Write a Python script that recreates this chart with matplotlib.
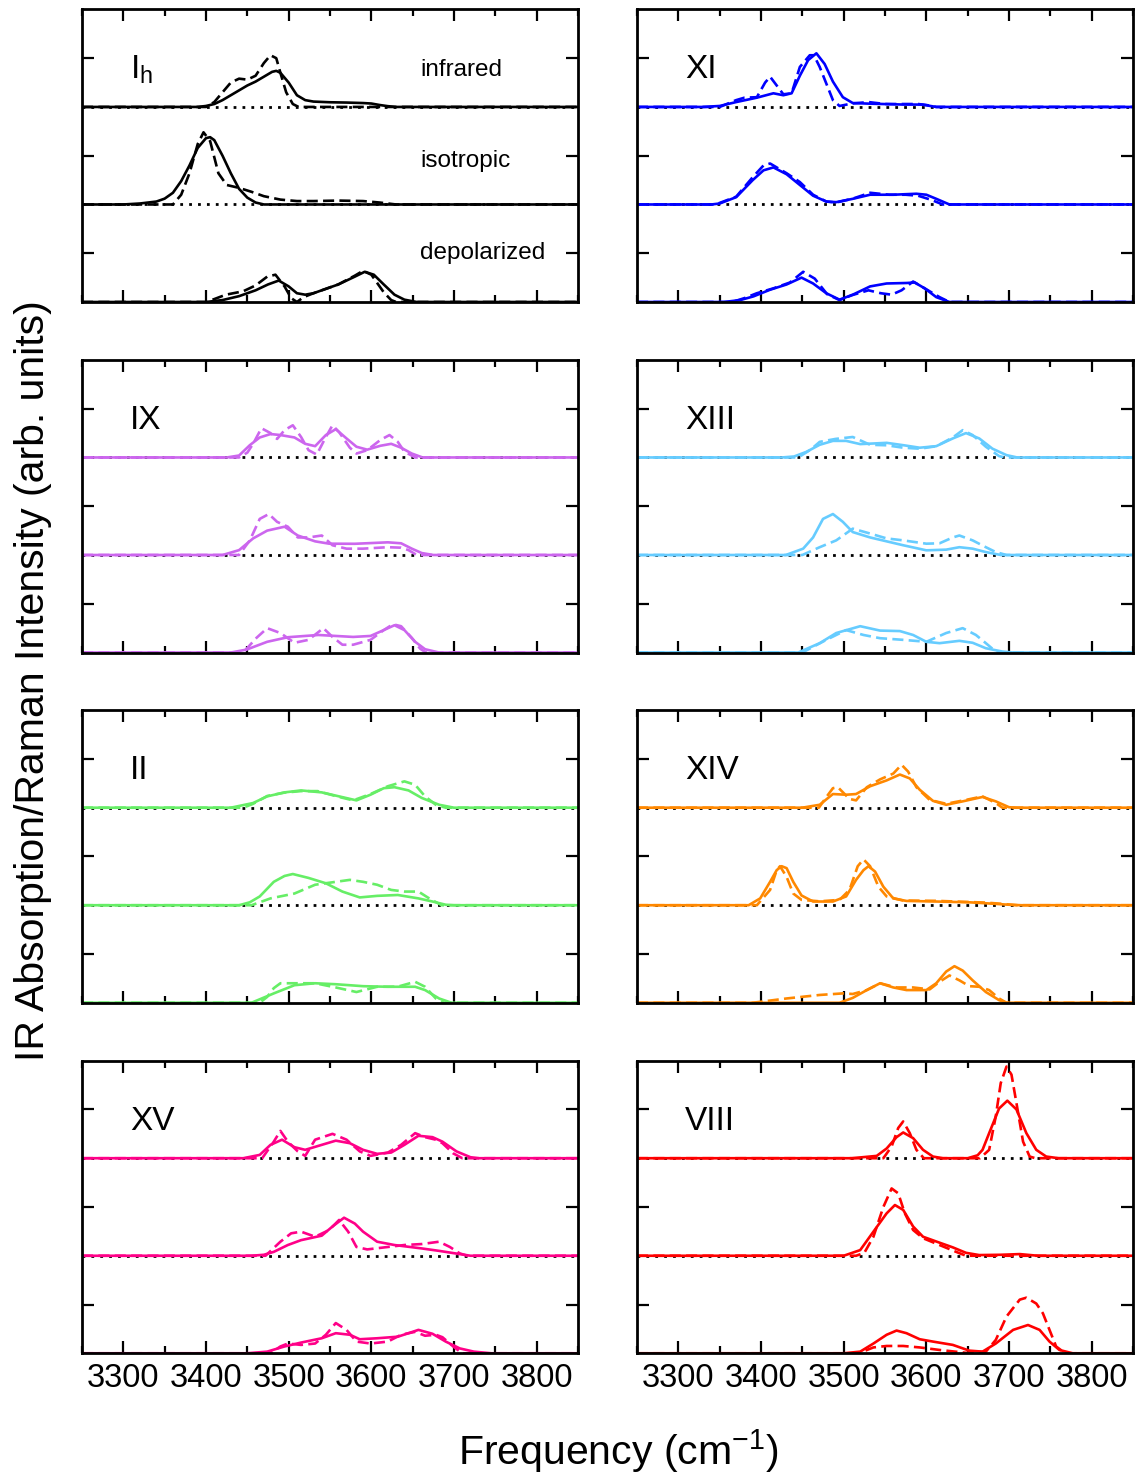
import matplotlib
matplotlib.use('Agg')
import matplotlib.pyplot as plt
from matplotlib.ticker import MultipleLocator, NullFormatter, FixedLocator

plt.rcParams['font.family'] = ['Liberation Sans', 'DejaVu Sans']
plt.rcParams['mathtext.fontset'] = 'custom'
plt.rcParams['mathtext.rm'] = 'Liberation Sans'
plt.rcParams['mathtext.it'] = 'Liberation Sans:italic'

FREQ_MIN, FREQ_MAX = 3250, 3850
freq_ticks = [3300, 3400, 3500, 3600, 3700, 3800]
mode_names = ['infrared', 'isotropic', 'depolarized']

# (frequency, intensity) pairs; solid = computed, dashed = second model
ih_ir_solid = [(3390, 0), (3400, 0.01), (3410, 0.03), (3420, 0.07), (3430, 0.12), (3440, 0.17),
               (3450, 0.22), (3460, 0.26), (3470, 0.31), (3480, 0.36), (3485, 0.37), (3490, 0.35),
               (3500, 0.25), (3510, 0.12), (3520, 0.07), (3530, 0.055), (3550, 0.048), (3570, 0.045),
               (3590, 0.04), (3600, 0.035), (3610, 0.02), (3620, 0.008), (3630, 0)]
ih_ir_dash = [(3400, 0), (3410, 0.05), (3420, 0.15), (3430, 0.25), (3440, 0.29), (3450, 0.28),
              (3460, 0.32), (3470, 0.45), (3478, 0.53), (3485, 0.50), (3490, 0.35), (3497, 0.15),
              (3505, 0.03), (3512, 0)]
ih_iso_solid = [(3300, 0), (3320, 0.01), (3340, 0.03), (3350, 0.06), (3360, 0.12), (3370, 0.24),
                (3380, 0.40), (3390, 0.58), (3400, 0.68), (3405, 0.69), (3410, 0.66), (3420, 0.50),
                (3430, 0.32), (3440, 0.16), (3450, 0.07), (3460, 0.02), (3470, 0)]
ih_iso_dash = [(3360, 0), (3370, 0.1), (3380, 0.32), (3390, 0.62), (3397, 0.74), (3405, 0.65),
               (3415, 0.32), (3425, 0.2), (3440, 0.17), (3455, 0.13), (3470, 0.085), (3490, 0.05),
               (3510, 0.035), (3530, 0.035), (3560, 0.04), (3590, 0.035), (3610, 0.02), (3630, 0)]
ih_dep_solid = [(3400, 0), (3420, 0.02), (3440, 0.06), (3460, 0.12), (3475, 0.18), (3488, 0.22),
                (3500, 0.16), (3510, 0.09), (3520, 0.075), (3530, 0.09), (3540, 0.12), (3560, 0.18),
                (3580, 0.26), (3592, 0.31), (3603, 0.28), (3615, 0.18), (3628, 0.075), (3640, 0.024),
                (3655, 0)]
ih_dep_dash = [(3400, 0), (3410, 0.03), (3424, 0.075), (3445, 0.11), (3460, 0.17), (3474, 0.26),
               (3484, 0.28), (3495, 0.16), (3503, 0.04), (3510, 0), (3518, 0.05), (3530, 0.09),
               (3560, 0.18), (3580, 0.27), (3590, 0.32), (3600, 0.28), (3615, 0.10), (3624, 0.02),
               (3630, 0)]

xi_ir_solid = [(3330, 0), (3350, 0.01), (3370, 0.05), (3395, 0.095), (3415, 0.14), (3427, 0.12),
               (3437, 0.14), (3447, 0.32), (3457, 0.48), (3467, 0.55), (3477, 0.44), (3487, 0.26),
               (3499, 0.10), (3511, 0.04), (3530, 0.034), (3570, 0.025), (3595, 0.024), (3612, 0)]
xi_ir_dash = [(3350, 0), (3370, 0.07), (3380, 0.095), (3395, 0.10), (3405, 0.25), (3411, 0.31),
              (3419, 0.22), (3427, 0.13), (3437, 0.14), (3447, 0.41), (3459, 0.53), (3464, 0.53),
              (3471, 0.41), (3479, 0.24), (3487, 0.07), (3495, 0.01), (3510, 0.035), (3530, 0.05),
              (3550, 0.03), (3570, 0.03), (3590, 0.03), (3600, 0.02), (3612, 0)]
xi_iso_solid = [(3340, 0), (3350, 0.01), (3370, 0.075), (3390, 0.25), (3403, 0.35), (3415, 0.38),
                (3431, 0.31), (3447, 0.2), (3463, 0.09), (3479, 0.03), (3491, 0.024), (3511, 0.058),
                (3532, 0.10), (3560, 0.10), (3588, 0.11), (3600, 0.10), (3612, 0.058), (3628, 0)]
xi_iso_dash = [(3345, 0), (3370, 0.08), (3390, 0.28), (3403, 0.40), (3411, 0.42), (3431, 0.32),
               (3447, 0.23), (3463, 0.10), (3479, 0.03), (3491, 0.02), (3511, 0.06), (3532, 0.12),
               (3555, 0.10), (3575, 0.10), (3590, 0.09), (3605, 0.05), (3620, 0)]
xi_dep_solid = [(3355, 0), (3375, 0.02), (3391, 0.058), (3411, 0.126), (3431, 0.18), (3449, 0.25),
                (3463, 0.19), (3479, 0.09), (3495, 0.024), (3511, 0.075), (3532, 0.16), (3552, 0.19),
                (3576, 0.195), (3586, 0.20), (3598, 0.14), (3612, 0.05), (3628, 0)]
xi_dep_dash = [(3365, 0), (3380, 0.04), (3395, 0.09), (3415, 0.14), (3435, 0.20), (3451, 0.31),
               (3465, 0.24), (3480, 0.08), (3495, 0.02), (3510, 0.07), (3530, 0.12), (3545, 0.09),
               (3558, 0.075), (3570, 0.12), (3584, 0.21), (3600, 0.13), (3616, 0.05), (3628, 0)]

ix_ir_solid = [(3425, 0), (3440, 0.02), (3453, 0.126), (3465, 0.205), (3478, 0.24), (3490, 0.23),
               (3507, 0.205), (3520, 0.14), (3532, 0.116), (3545, 0.23), (3557, 0.29), (3570, 0.195),
               (3582, 0.11), (3595, 0.08), (3611, 0.12), (3624, 0.14), (3636, 0.10), (3649, 0.04),
               (3662, 0)]
ix_ir_dash = [(3440, 0), (3450, 0.05), (3457, 0.14), (3467, 0.30), (3478, 0.25), (3486, 0.19),
              (3495, 0.28), (3505, 0.33), (3515, 0.21), (3524, 0.075), (3534, 0.03), (3545, 0.21),
              (3553, 0.33), (3561, 0.26), (3574, 0.10), (3582, 0.04), (3595, 0.075), (3611, 0.18),
              (3622, 0.23), (3632, 0.16), (3640, 0.06), (3653, 0)]
ix_iso_solid = [(3420, 0), (3440, 0.05), (3457, 0.17), (3474, 0.25), (3495, 0.29), (3511, 0.20),
                (3532, 0.14), (3549, 0.116), (3580, 0.115), (3620, 0.13), (3636, 0.12), (3649, 0.065),
                (3661, 0.02), (3675, 0)]
ix_iso_dash = [(3440, 0), (3453, 0.15), (3465, 0.37), (3476, 0.42), (3486, 0.34), (3499, 0.29),
               (3511, 0.18), (3524, 0.18), (3540, 0.20), (3553, 0.10), (3570, 0.065), (3590, 0.065),
               (3620, 0.08), (3636, 0.075), (3645, 0.05), (3655, 0)]
ix_dep_solid = [(3430, 0), (3449, 0.03), (3474, 0.11), (3499, 0.157), (3536, 0.18), (3557, 0.17),
                (3578, 0.16), (3599, 0.17), (3615, 0.23), (3628, 0.28), (3640, 0.23), (3653, 0.11),
                (3665, 0.034), (3682, 0)]
ix_dep_dash = [(3445, 0), (3461, 0.15), (3474, 0.25), (3490, 0.20), (3507, 0.10), (3524, 0.13),
               (3542, 0.25), (3553, 0.16), (3565, 0.08), (3578, 0.08), (3599, 0.13), (3615, 0.23),
               (3626, 0.29), (3636, 0.27), (3649, 0.15), (3659, 0.04), (3666, 0)]

xiii_ir_solid = [(3425, 0), (3440, 0.01), (3455, 0.058), (3471, 0.13), (3487, 0.17), (3503, 0.17),
                 (3520, 0.137), (3540, 0.145), (3552, 0.15), (3572, 0.126), (3592, 0.10), (3612, 0.116),
                 (3632, 0.195), (3648, 0.25), (3664, 0.195), (3680, 0.09), (3697, 0.024), (3710, 0)]
xiii_ir_dash = [(3445, 0), (3460, 0.08), (3471, 0.16), (3490, 0.19), (3511, 0.21), (3532, 0.13),
                (3552, 0.125), (3572, 0.10), (3592, 0.09), (3612, 0.115), (3632, 0.205), (3644, 0.28),
                (3656, 0.23), (3672, 0.11), (3688, 0.014), (3695, 0)]
xiii_iso_solid = [(3430, 0), (3451, 0.065), (3463, 0.18), (3475, 0.37), (3487, 0.42), (3499, 0.34),
                  (3511, 0.235), (3532, 0.18), (3552, 0.14), (3572, 0.10), (3600, 0.048), (3624, 0.055),
                  (3640, 0.08), (3656, 0.065), (3672, 0.03), (3690, 0)]
xiii_iso_dash = [(3450, 0), (3471, 0.08), (3491, 0.15), (3511, 0.27), (3532, 0.22), (3552, 0.17),
                 (3572, 0.15), (3600, 0.116), (3616, 0.12), (3632, 0.18), (3640, 0.20), (3656, 0.15),
                 (3672, 0.08), (3684, 0.03), (3697, 0)]
xiii_dep_solid = [(3445, 0), (3471, 0.096), (3491, 0.20), (3520, 0.27), (3544, 0.225), (3568, 0.22),
                  (3584, 0.18), (3600, 0.11), (3616, 0.096), (3640, 0.12), (3656, 0.10), (3672, 0.044),
                  (3692, 0.01), (3705, 0)]
xiii_dep_dash = [(3450, 0), (3479, 0.13), (3503, 0.23), (3524, 0.18), (3544, 0.147), (3572, 0.13),
                 (3600, 0.11), (3624, 0.20), (3644, 0.25), (3660, 0.18), (3672, 0.096), (3684, 0.01),
                 (3690, 0)]

ii_ir_solid = [(3430, 0), (3457, 0.048), (3474, 0.116), (3495, 0.157), (3515, 0.177), (3540, 0.157),
               (3561, 0.116), (3582, 0.075), (3599, 0.133), (3615, 0.20), (3628, 0.21), (3645, 0.177),
               (3661, 0.10), (3682, 0.03), (3700, 0)]
ii_ir_dash = [(3445, 0), (3457, 0.04), (3474, 0.12), (3495, 0.155), (3515, 0.17), (3535, 0.17),
              (3561, 0.11), (3578, 0.075), (3599, 0.14), (3620, 0.22), (3640, 0.27), (3653, 0.235),
              (3665, 0.116), (3678, 0.03), (3690, 0)]
ii_iso_solid = [(3440, 0), (3453, 0.03), (3465, 0.09), (3482, 0.24), (3495, 0.30), (3505, 0.32),
                (3524, 0.28), (3545, 0.225), (3565, 0.14), (3586, 0.08), (3607, 0.096), (3632, 0.105),
                (3657, 0.07), (3674, 0.038), (3690, 0.005), (3700, 0)]
ii_iso_dash = [(3455, 0), (3478, 0.07), (3507, 0.12), (3532, 0.21), (3557, 0.24), (3574, 0.26),
               (3590, 0.24), (3607, 0.21), (3624, 0.157), (3640, 0.14), (3657, 0.14), (3670, 0.07),
               (3685, 0)]
ii_dep_solid = [(3455, 0), (3482, 0.096), (3507, 0.18), (3532, 0.20), (3557, 0.19), (3590, 0.17),
                (3620, 0.164), (3653, 0.164), (3665, 0.13), (3682, 0.044), (3697, 0)]
ii_dep_dash = [(3465, 0), (3474, 0.06), (3482, 0.15), (3490, 0.20), (3507, 0.20), (3532, 0.20),
               (3557, 0.157), (3582, 0.11), (3607, 0.164), (3632, 0.165), (3653, 0.215), (3665, 0.164),
               (3678, 0.044), (3688, 0)]

xiv_ir_solid = [(3450, 0), (3471, 0.03), (3487, 0.14), (3503, 0.133), (3515, 0.14), (3532, 0.22),
                (3552, 0.28), (3568, 0.34), (3580, 0.30), (3592, 0.184), (3608, 0.07), (3624, 0.03),
                (3644, 0.065), (3668, 0.11), (3684, 0.065), (3700, 0.005), (3710, 0)]
xiv_ir_dash = [(3470, 0), (3480, 0.12), (3487, 0.20), (3493, 0.21), (3507, 0.09), (3515, 0.075),
               (3528, 0.21), (3544, 0.29), (3560, 0.35), (3570, 0.44), (3578, 0.37), (3588, 0.21),
               (3604, 0.08), (3624, 0.04), (3648, 0.08), (3668, 0.116), (3684, 0.048), (3692, 0)]
xiv_iso_solid = [(3385, 0), (3399, 0.07), (3411, 0.24), (3419, 0.36), (3425, 0.40), (3431, 0.38),
                 (3439, 0.24), (3449, 0.10), (3463, 0.038), (3487, 0.038), (3503, 0.09), (3515, 0.26),
                 (3524, 0.36), (3530, 0.40), (3538, 0.345), (3548, 0.19), (3560, 0.07), (3576, 0.044),
                 (3612, 0.038), (3652, 0.03), (3672, 0.02), (3700, 0.005), (3715, 0)]
xiv_iso_dash = [(3395, 0), (3411, 0.157), (3419, 0.36), (3423, 0.40), (3431, 0.29), (3439, 0.12),
                (3449, 0.055), (3471, 0.04), (3495, 0.055), (3507, 0.157), (3517, 0.40), (3524, 0.47),
                (3532, 0.40), (3542, 0.19), (3552, 0.09), (3572, 0.048), (3612, 0.045), (3672, 0.027),
                (3692, 0.014), (3710, 0)]
xiv_dep_solid = [(3495, 0), (3511, 0.05), (3528, 0.13), (3544, 0.20), (3560, 0.157), (3576, 0.13),
                 (3600, 0.13), (3612, 0.20), (3624, 0.32), (3634, 0.375), (3644, 0.33), (3656, 0.23),
                 (3672, 0.11), (3688, 0.027), (3697, 0)]
xiv_dep_dash = [(3390, 0), (3431, 0.044), (3471, 0.08), (3499, 0.096), (3511, 0.09), (3528, 0.13),
                (3544, 0.20), (3564, 0.157), (3584, 0.157), (3604, 0.137), (3616, 0.215), (3628, 0.28),
                (3640, 0.23), (3652, 0.17), (3664, 0.164), (3676, 0.13), (3688, 0.044), (3697, 0)]

xv_ir_solid = [(3445, 0), (3465, 0.034), (3478, 0.137), (3492, 0.19), (3507, 0.113), (3520, 0.086),
               (3540, 0.137), (3557, 0.18), (3574, 0.154), (3590, 0.086), (3607, 0.045), (3624, 0.058),
               (3640, 0.137), (3657, 0.23), (3674, 0.216), (3686, 0.17), (3703, 0.07), (3720, 0.01),
               (3730, 0)]
xv_ir_dash = [(3468, 0), (3482, 0.17), (3490, 0.28), (3499, 0.17), (3511, 0.07), (3520, 0.024),
              (3532, 0.19), (3553, 0.25), (3570, 0.19), (3586, 0.07), (3599, 0.024), (3620, 0.058),
              (3636, 0.137), (3653, 0.257), (3665, 0.216), (3678, 0.19), (3686, 0.154), (3699, 0.05),
              (3710, 0)]
xv_iso_solid = [(3455, 0), (3470, 0.01), (3482, 0.04), (3499, 0.11), (3515, 0.16), (3540, 0.206),
                (3553, 0.30), (3567, 0.39), (3580, 0.33), (3590, 0.247), (3607, 0.144), (3628, 0.11),
                (3661, 0.075), (3682, 0.05), (3707, 0.017), (3720, 0)]
xv_iso_dash = [(3472, 0), (3490, 0.144), (3503, 0.23), (3515, 0.247), (3532, 0.195), (3549, 0.264),
               (3561, 0.367), (3572, 0.247), (3582, 0.09), (3595, 0.065), (3620, 0.09), (3640, 0.11),
               (3661, 0.12), (3682, 0.144), (3695, 0.09), (3707, 0.024), (3716, 0)]
xv_dep_solid = [(3450, 0), (3474, 0.017), (3495, 0.07), (3515, 0.11), (3540, 0.154), (3557, 0.206),
                (3574, 0.19), (3586, 0.144), (3607, 0.154), (3632, 0.17), (3645, 0.206), (3657, 0.24),
                (3674, 0.20), (3690, 0.12), (3707, 0.05), (3724, 0.017), (3745, 0)]
xv_dep_dash = [(3478, 0), (3490, 0.07), (3499, 0.10), (3515, 0.086), (3532, 0.10), (3545, 0.19),
               (3557, 0.31), (3570, 0.24), (3582, 0.12), (3599, 0.10), (3620, 0.12), (3636, 0.19),
               (3653, 0.22), (3665, 0.18), (3678, 0.19), (3686, 0.165), (3699, 0.07), (3710, 0)]

viii_ir_solid = [(3510, 0), (3540, 0.024), (3552, 0.10), (3564, 0.216), (3572, 0.264), (3584, 0.206),
                 (3596, 0.086), (3608, 0.017), (3620, 0), (3650, 0), (3662, 0.03), (3668, 0.086),
                 (3676, 0.257), (3688, 0.51), (3698, 0.59), (3709, 0.50), (3721, 0.257), (3733, 0.086),
                 (3745, 0.017), (3760, 0)]
viii_ir_dash = [(3548, 0), (3558, 0.12), (3566, 0.31), (3572, 0.377), (3580, 0.257), (3588, 0.086),
                (3597, 0), (3665, 0), (3676, 0.086), (3684, 0.43), (3690, 0.77), (3697, 0.94),
                (3703, 0.857), (3709, 0.566), (3717, 0.17), (3725, 0.017), (3732, 0)]
viii_iso_solid = [(3500, 0), (3520, 0.058), (3536, 0.247), (3552, 0.435), (3562, 0.52), (3572, 0.47),
                  (3584, 0.30), (3596, 0.195), (3616, 0.134), (3632, 0.086), (3648, 0.03), (3664, 0.007),
                  (3690, 0.01), (3713, 0.017), (3735, 0)]
viii_iso_dash = [(3515, 0), (3525, 0.03), (3536, 0.195), (3548, 0.50), (3558, 0.69), (3566, 0.64),
                 (3574, 0.435), (3584, 0.264), (3596, 0.18), (3616, 0.11), (3636, 0.04), (3648, 0)]
viii_dep_solid = [(3500, 0), (3520, 0.017), (3536, 0.10), (3552, 0.19), (3564, 0.233), (3576, 0.206),
                  (3592, 0.144), (3608, 0.12), (3632, 0.086), (3652, 0.027), (3668, 0.017), (3684, 0.10),
                  (3705, 0.24), (3723, 0.29), (3737, 0.24), (3749, 0.12), (3761, 0.034), (3777, 0)]
viii_dep_dash = [(3518, 0), (3536, 0.06), (3552, 0.075), (3572, 0.075), (3592, 0.06), (3616, 0.034),
                 (3648, 0.005), (3672, 0.017), (3684, 0.137), (3697, 0.377), (3713, 0.55), (3721, 0.57),
                 (3733, 0.51), (3741, 0.41), (3749, 0.24), (3757, 0.07), (3768, 0)]

# panel layout: label, colour, (ir, iso, dep) x (solid, dashed)
panels = [
    (r'I$_\mathregular{h}$', 'black',
     [(ih_ir_solid, ih_ir_dash), (ih_iso_solid, ih_iso_dash), (ih_dep_solid, ih_dep_dash)]),
    ('XI', '#0000ff',
     [(xi_ir_solid, xi_ir_dash), (xi_iso_solid, xi_iso_dash), (xi_dep_solid, xi_dep_dash)]),
    ('IX', '#cc66ee',
     [(ix_ir_solid, ix_ir_dash), (ix_iso_solid, ix_iso_dash), (ix_dep_solid, ix_dep_dash)]),
    ('XIII', '#66ccff',
     [(xiii_ir_solid, xiii_ir_dash), (xiii_iso_solid, xiii_iso_dash), (xiii_dep_solid, xiii_dep_dash)]),
    ('II', '#66ee66',
     [(ii_ir_solid, ii_ir_dash), (ii_iso_solid, ii_iso_dash), (ii_dep_solid, ii_dep_dash)]),
    ('XIV', '#ff8800',
     [(xiv_ir_solid, xiv_ir_dash), (xiv_iso_solid, xiv_iso_dash), (xiv_dep_solid, xiv_dep_dash)]),
    ('XV', '#ff0088',
     [(xv_ir_solid, xv_ir_dash), (xv_iso_solid, xv_iso_dash), (xv_dep_solid, xv_dep_dash)]),
    ('VIII', '#ff0000',
     [(viii_ir_solid, viii_ir_dash), (viii_iso_solid, viii_iso_dash), (viii_dep_solid, viii_dep_dash)]),
]


def trace(points, offset):
    # pad with zero intensity out to the axis limits
    xs = [FREQ_MIN] + [p[0] for p in points] + [FREQ_MAX]
    ys = [offset] + [offset + p[1] for p in points] + [offset]
    return xs, ys


fig = plt.figure(figsize=(11.38, 14.79), dpi=100)
col_left = [82 / 1138, 637 / 1138]
row_bottom = [0.7958, 0.5588, 0.3220, 0.0850]
ax_w, ax_h = 496 / 1138, 292.6 / 1479

for i, (label, color, modes) in enumerate(panels):
    row, col = divmod(i, 2)
    ax = fig.add_axes([col_left[col], row_bottom[row], ax_w, ax_h])

    for k, (solid, dashed) in enumerate(modes):
        offset = 2 - k
        if offset > 0:
            ax.plot([FREQ_MIN, FREQ_MAX], [offset, offset], color='black', lw=2.0,
                    ls=(0, (1, 2.2)), zorder=1)
        ax.plot(*trace(solid, offset), color=color, lw=1.9, zorder=2,
                solid_joinstyle='round', solid_capstyle='round')
        ax.plot(*trace(dashed, offset), color=color, lw=1.9, ls=(0, (4.2, 2.0)), zorder=2.1)

    ax.text(3308, 2.38, label, fontsize=24, ha='left', va='center')
    if i == 0:
        for k, name in enumerate(mode_names):
            ax.text(3659, [2.38, 1.45, 0.50][k], name, fontsize=17.5, ha='left', va='center')

    ax.set_xlim(FREQ_MIN, FREQ_MAX)
    ax.set_ylim(0, 3)
    ax.xaxis.set_major_locator(FixedLocator(freq_ticks))
    ax.xaxis.set_minor_locator(MultipleLocator(50))
    ax.yaxis.set_major_locator(FixedLocator([0.5, 1.5, 2.5]))
    ax.yaxis.set_major_formatter(NullFormatter())
    ax.tick_params(axis='both', which='both', direction='in', top=True, right=True, width=1.6)
    ax.tick_params(axis='both', which='major', length=8.5)
    ax.tick_params(axis='x', which='minor', length=5)
    ax.tick_params(axis='x', labelsize=23.5, pad=7)
    if row < 3:
        ax.xaxis.set_major_formatter(NullFormatter())
    for sp in ax.spines.values():
        sp.set_linewidth(2.0)

fig.text(0.029, 0.54, 'IR Absorption/Raman Intensity (arb. units)', rotation=90,
         fontsize=29.5, ha='center', va='center')
fig.text(0.543, 0.019, r'Frequency (cm$^{\mathregular{-1}}$)', fontsize=29.5, ha='center', va='center')

fig.savefig('out.png', dpi=100)
